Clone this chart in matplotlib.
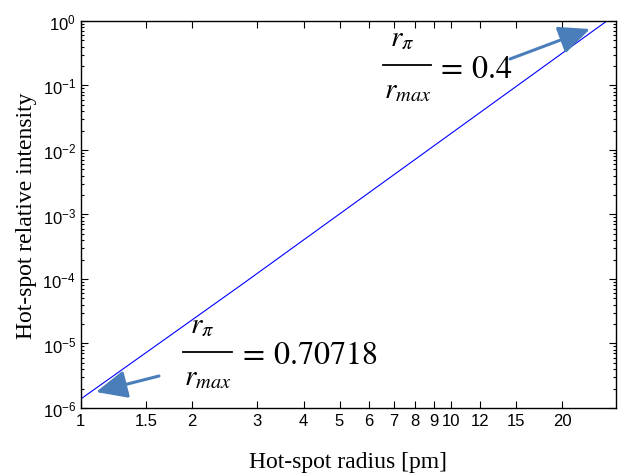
import matplotlib
matplotlib.use('Agg')
import matplotlib.pyplot as plt
from matplotlib.lines import Line2D
from matplotlib.ticker import FixedLocator, FixedFormatter, LogLocator, NullFormatter

plt.rcParams['font.family'] = ['Liberation Sans', 'DejaVu Sans']
plt.rcParams['mathtext.fontset'] = 'stix'

# datos (log-log, recta)
radio = [1.0, 2.69, 26.4]
intensidad = [1.38e-6, 7.8e-5, 1.0]

xticks = [1, 1.5, 2, 3, 4, 5, 6, 7, 8, 9, 10, 12, 15, 20]
xtick_labels = ['1', '1.5', '2', '3', '4', '5', '6', '7', '8', '9', '10', '12', '15', '20']

W, H = 622, 477
fig = plt.figure(figsize=(W / 100, H / 100), dpi=100)
ax = fig.add_axes([0.130, 0.1426, 0.860, 0.8114])

ax.plot(radio, intensidad, color='#0000ff', lw=0.8)
ax.set_xscale('log')
ax.set_yscale('log')
ax.set_xlim(1, 27.9)
ax.set_ylim(1e-6, 1)

ax.xaxis.set_major_locator(FixedLocator(xticks))
ax.xaxis.set_major_formatter(FixedFormatter(xtick_labels))
ax.xaxis.set_minor_locator(FixedLocator([]))
ax.yaxis.set_major_locator(LogLocator(base=10, numticks=10))
ax.yaxis.set_minor_locator(LogLocator(base=10, subs=range(2, 10), numticks=10))
ax.yaxis.set_minor_formatter(NullFormatter())

ax.tick_params(which='both', direction='in', top=True, right=True, labelsize=12, width=0.8)
ax.tick_params(which='major', length=5)
ax.tick_params(which='minor', length=2.5)
for s in ax.spines.values():
    s.set_linewidth(1.0)

ax.set_xlabel('Hot-spot radius [pm]', family='Liberation Serif', fontsize=17, labelpad=17)
ax.set_ylabel('Hot-spot relative intensity', family='Liberation Serif', fontsize=17, labelpad=4)


# posiciones en pixeles (desde arriba-izquierda) para las etiquetas
def px(x, y):
    return x / W, 1 - y / H


def fraccion(xc, yb, x0, x1, resto, xr):
    fig.text(*px(xc - 5, yb - 14), r'$r_\pi$', fontsize=21, ha='center', va='bottom')
    fig.text(*px(xc + 1, yb + 10), r'$r_{max}$', fontsize=21, ha='center', va='top')
    fig.add_artist(Line2D([x0 / W, x1 / W], [1 - yb / H, 1 - yb / H], color='black', lw=1.3))
    fig.text(*px(xr, yb), resto, fontsize=23, ha='left', va='center_baseline')


fraccion(407, 66, 383, 431, r'$=\,0.4$', 436)
fraccion(207, 353, 183, 232, r'$=\,0.70718$', 238)

flecha = dict(arrowstyle='-|>,head_width=0.45,head_length=1.0', color='#4a7ebb', lw=2.2,
              mutation_scale=19, shrinkA=0, shrinkB=0)
ax.annotate('', xy=(590, H - 30), xytext=(510, H - 60), xycoords='figure pixels',
            textcoords='figure pixels', arrowprops=flecha)
ax.annotate('', xy=(96, H - 393), xytext=(159, H - 377), xycoords='figure pixels',
            textcoords='figure pixels', arrowprops=flecha)

fig.savefig('out.png', dpi=100)
